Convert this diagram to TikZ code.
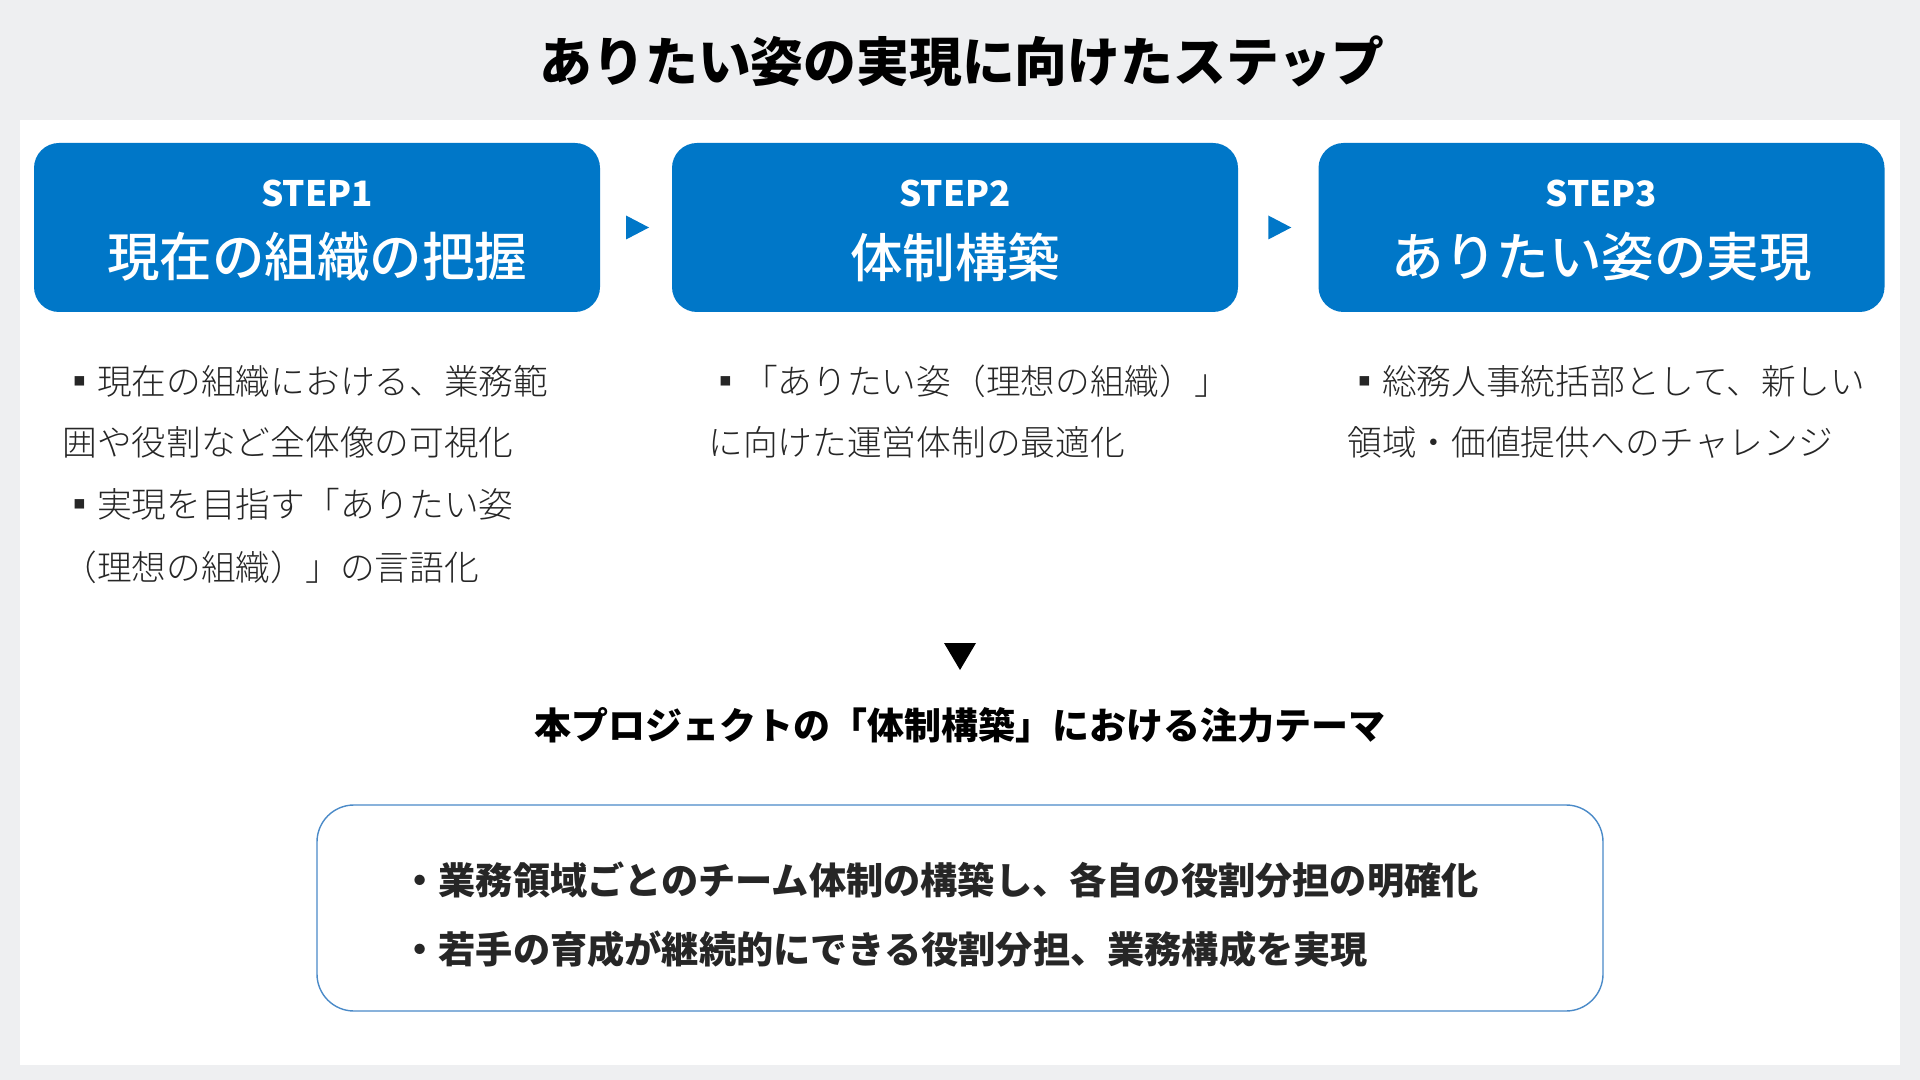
\documentclass[tikz,border=0pt]{standalone}
\usepackage{fontspec}
\setmainfont{Noto Sans CJK JP}
\newfontfamily\lightjp{Noto Sans CJK JP}[UprightFont=* Light]
\newfontfamily\mediumjp{Noto Sans CJK JP}[UprightFont=* Medium]
\usetikzlibrary{calc}
\definecolor{bgray}{HTML}{EEEFF1}
\definecolor{stepblue}{HTML}{0077C8}
\definecolor{frameblue}{HTML}{4A8AC8}
\definecolor{ink}{HTML}{262626}
\tikzset{
  stepbox/.style={fill=stepblue, draw=none, rounded corners=12.5pt, minimum width=283pt, minimum height=84.5pt, inner sep=0pt},
  steplabel/.style={text=white, font=\fontsize{17.5}{21}\selectfont\bfseries, inner sep=0pt},
  steptitle/.style={text=white, font=\fontsize{26.25}{30}\selectfont\mediumjp, inner sep=0pt},
  bodytext/.style={text=ink, font=\fontsize{17.35}{20}\selectfont\lightjp, anchor=west, inner sep=0pt},
  flowtri/.style={fill=stepblue},
  focusbox/.style={draw=frameblue, line width=0.7pt, fill=white, rounded corners=18.5pt, minimum width=643pt, minimum height=103pt, inner sep=0pt},
  focustext/.style={text=ink, font=\fontsize{18.6}{22}\selectfont\bfseries, anchor=west, inner sep=0pt}
}
\begin{document}
\begin{tikzpicture}[x=0.5pt,y=-0.5pt]
\useasboundingbox (0,0) rectangle (1920,1080);
\fill[bgray] (0,0) rectangle (1920,1080);
\fill[white] (20,120) rectangle (1900,1065);

\node[text=black, font=\fontsize{26.4}{30}\selectfont\bfseries, inner sep=0pt] (title) at (962,61) {ありたい姿の実現に向けたステップ};

% step boxes
\node[stepbox] (s1) at (317,227.5) {};
\node[stepbox] (s2) at (955,227.5) {};
\node[stepbox] (s3) at (1601.5,227.5) {};

\node[steplabel] (s1a) at ($(s1.center)+(0,-34.5)$) {STEP1};
\node[steptitle] (s1b) at ($(s1.center)+(0,29.5)$) {現在の組織の把握};
\node[steplabel] (s2a) at ($(s2.center)+(0,-34.5)$) {STEP2};
\node[steptitle] (s2b) at ($(s2.center)+(0,29.5)$) {体制構築};
\node[steplabel] (s3a) at ($(s3.center)+(0,-34.5)$) {STEP3};
\node[steptitle] (s3b) at ($(s3.center)+(0,29.5)$) {ありたい姿の実現};

% arrows between steps
\coordinate (t1) at ($(s1.east)!0.5!(s2.west)$);
\coordinate (t2) at ($(s2.east)!0.5!(s3.west)$);
\fill[flowtri] ($(t1)+(-10,-12)$) -- ($(t1)+(13,0)$) -- ($(t1)+(-10,12)$) -- cycle;
\fill[flowtri] ($(t2)+(-10,-12)$) -- ($(t2)+(13,0)$) -- ($(t2)+(-10,12)$) -- cycle;

% descriptions
\node[bodytext] (c1l1) at (62,381) {▪現在の組織における、業務範};
\node[bodytext] (c1l2) at (62,442) {囲や役割など全体像の可視化};
\node[bodytext] (c1l3) at (62,504) {▪実現を目指す「ありたい姿};
\node[bodytext] (c1l4) at (62,567) {（理想の組織）」の言語化};

\node[bodytext] (c2l1) at (708,381) {▪「ありたい姿（理想の組織）」};
\node[bodytext] (c2l2) at (708,442) {に向けた運営体制の最適化};

\node[bodytext] (c3l1) at (1347,381) {▪総務人事統括部として、新しい};
\node[bodytext] (c3l2) at (1347,442) {領域・価値提供へのチャレンジ};

% down arrow
\coordinate (dtri) at (960,656);
\fill[black] ($(dtri)+(-16,-13)$) -- ($(dtri)+(16,-13)$) -- ($(dtri)+(0,14)$) -- cycle;

\node[text=black, font=\fontsize{18.5}{22}\selectfont\bfseries, inner sep=0pt] (focushead) at (960,725) {本プロジェクトの「体制構築」における注力テーマ};

\node[focusbox] (fbox) at (960,908) {};
\node[focustext] (f1) at (401,880) {・業務領域ごとのチーム体制の構築し、各自の役割分担の明確化};
\node[focustext] (f2) at (401,949) {・若手の育成が継続的にできる役割分担、業務構成を実現};
\end{tikzpicture}
\end{document}
